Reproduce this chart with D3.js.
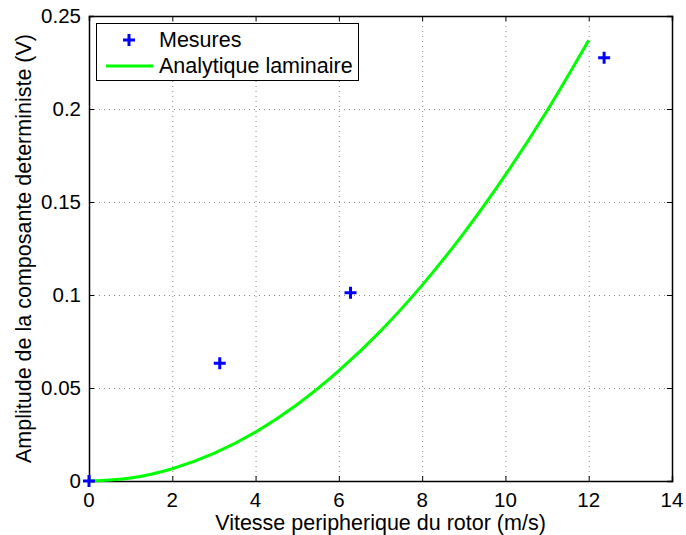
<!DOCTYPE html>
<html><head><meta charset="utf-8">
<script src="https://cdn.jsdelivr.net/npm/d3@7"></script>
<style>body{margin:0;background:#fff}svg{display:block}</style>
</head><body><svg id="c" width="686" height="535"></svg>
<script>
const mesuresX = [0, 3.14, 6.28, 12.37];
const mesuresY = [0, 0.0633, 0.1012, 0.2275];
const analytX = [0, 1, 2, 3, 4, 5, 6, 7, 8, 9, 10, 11, 12];
const analytY = [0, 0.0016, 0.0066, 0.0148, 0.0263, 0.0411, 0.0593, 0.0806, 0.1053, 0.1333, 0.1646, 0.1991, 0.2370];
const xTicks = [0, 2, 4, 6, 8, 10, 12, 14];
const yTicks = [0, 0.05, 0.1, 0.15, 0.2, 0.25];
const yTickLabels = ["0", "0.05", "0.1", "0.15", "0.2", "0.25"];
const legendLabels = ["Mesures", "Analytique laminaire"];

const L = 89, R = 672, T = 16, B = 481;
const FONT = '"Liberation Sans",Arial,sans-serif';
const svg = d3.select("#c");
const x = d3.scaleLinear().domain([0, 14]).range([L, R]);
const y = d3.scaleLinear().domain([0, 0.25]).range([B, T]);

// grid
const g = svg.append("g");
g.selectAll(".gx").data(xTicks.slice(1, -1)).join("line")
  .attr("x1", d => x(d) + 0.5).attr("x2", d => x(d) + 0.5).attr("y1", T).attr("y2", B)
  .attr("stroke", "#888").attr("stroke-width", 1).attr("stroke-dasharray", "1,4");
g.selectAll(".gy").data(yTicks.slice(1, -1)).join("line")
  .attr("y1", d => Math.round(y(d)) + 0.5).attr("y2", d => Math.round(y(d)) + 0.5).attr("x1", L).attr("x2", R)
  .attr("stroke", "#888").attr("stroke-width", 1).attr("stroke-dasharray", "1,4");

// axes (lines only, labels drawn separately)
const fsTick = 20.5, fsTitle = 21.5, fsLeg = 21.5;
const mk = (axis, tr) => {
  const a = svg.append("g").attr("transform", tr).call(axis);
  a.selectAll("text").remove();
  a.selectAll("path").attr("stroke", "#000").attr("stroke-width", 1.5);
  a.selectAll("line").attr("stroke", "#000").attr("stroke-width", 1);
  return a;
};
mk(d3.axisBottom(x).tickValues(xTicks).tickSize(-5), `translate(0,${B})`);
mk(d3.axisLeft(y).tickValues(yTicks).tickSize(-5), `translate(${L},0)`);
mk(d3.axisTop(x).tickValues(xTicks).tickSize(-5), `translate(0,${T})`);
mk(d3.axisRight(y).tickValues(yTicks).tickSize(-5), `translate(${R},0)`);

svg.append("g").selectAll("text").data(xTicks).join("text")
  .attr("x", d => x(d)).attr("y", B + 25.5).attr("text-anchor", "middle")
  .attr("font-family", FONT).attr("font-size", fsTick).attr("fill", "#000")
  .text(d => d3.format("d")(d));
svg.append("g").selectAll("text").data(yTicks).join("text")
  .attr("x", L - 8).attr("y", d => y(d)).attr("dy", "0.36em").attr("text-anchor", "end")
  .attr("font-family", FONT).attr("font-size", fsTick).attr("fill", "#000")
  .text((d, i) => yTickLabels[i]);

// curve
const line = d3.line().x(d => x(d[0])).y(d => y(d[1])).curve(d3.curveMonotoneX);
svg.append("path").datum(analytX.map((v, i) => [v, analytY[i]]))
  .attr("d", line).attr("fill", "none").attr("stroke", "#00ff00").attr("stroke-width", 3);

// markers
const plus = (sel, cx, cy, s) => sel.append("path")
  .attr("d", `M${cx - s},${cy}H${cx + s}M${cx},${cy - s}V${cy + s}`)
  .attr("stroke", "#0000ff").attr("stroke-width", 3).attr("fill", "none");
mesuresX.forEach((v, i) => plus(svg, x(v), y(mesuresY[i]), 6));

// axis titles
svg.append("text").attr("x", (L + R) / 2).attr("y", 530).attr("text-anchor", "middle")
  .attr("font-family", FONT).attr("font-size", fsTitle).text("Vitesse peripherique du rotor (m/s)");
svg.append("text").attr("transform", `translate(31,${(T + B) / 2}) rotate(-90)`)
  .attr("text-anchor", "middle").attr("font-family", FONT).attr("font-size", fsTitle)
  .text("Amplitude de la composante deterministe (V)");

// legend
const lg = svg.append("g");
lg.append("rect").attr("x", 96.5).attr("y", 23.5).attr("width", 262).attr("height", 57)
  .attr("fill", "#fff").attr("stroke", "#000").attr("stroke-width", 1);
plus(lg, 129, 40, 6);
lg.append("line").attr("x1", 106).attr("x2", 153).attr("y1", 66).attr("y2", 66)
  .attr("stroke", "#00ff00").attr("stroke-width", 3);
lg.selectAll(".lt").data(legendLabels).join("text")
  .attr("x", 159).attr("y", (d, i) => 47 + i * 25.5)
  .attr("font-family", FONT).attr("font-size", fsLeg).text(d => d);
</script></body></html>
